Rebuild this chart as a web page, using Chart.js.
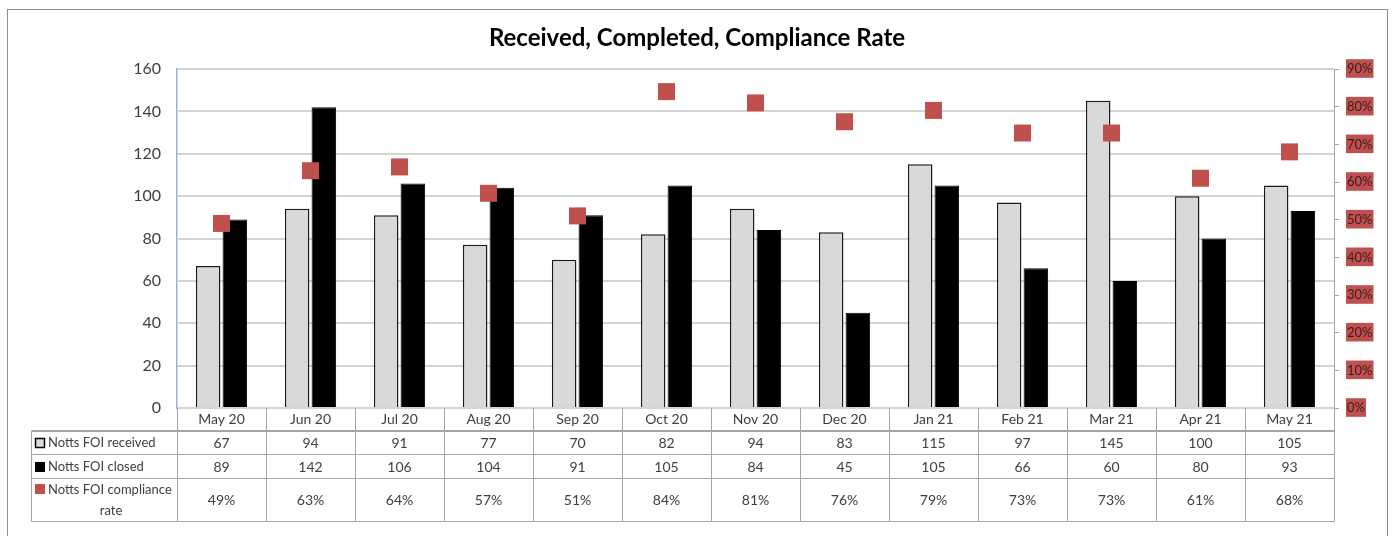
<!DOCTYPE html>
<html>
<head>
<meta charset="utf-8">
<script src="https://cdn.jsdelivr.net/npm/chart.js@4"></script>
<style>
  html, body { margin: 0; padding: 0; background: #fff; }
  #wrap { position: relative; width: 1394px; height: 536px; }
</style>
</head>
<body>
<div id="wrap"><canvas id="c" width="1394" height="536"></canvas></div>
<script>
const categories = ['May 20','Jun 20','Jul 20','Aug 20','Sep 20','Oct 20','Nov 20','Dec 20','Jan 21','Feb 21','Mar 21','Apr 21','May 21'];
const received = [67, 94, 91, 77, 70, 82, 94, 83, 115, 97, 145, 100, 105];
const closed = [89, 142, 106, 104, 91, 105, 84, 45, 105, 66, 60, 80, 93];
const compliance = [49, 63, 64, 57, 51, 84, 81, 76, 79, 73, 73, 61, 68];
const seriesNames = ['Notts FOI received', 'Notts FOI closed', 'Notts FOI compliance rate'];
const titleText = 'Received, Completed, Compliance Rate';

const FONT = 'Lato, "Open Sans", "DejaVu Sans", sans-serif';
const RED = '#c0504d';
const GRAY_BAR = '#d9d9d9';
const TABLE_LINE = '#a6a6a6';
const TEXT = '#404040';

const frame = {
  id: 'frame',
  beforeDraw(chart) {
    const ctx = chart.ctx;
    ctx.save();
    ctx.fillStyle = '#fff';
    ctx.fillRect(0, 0, chart.width, chart.height);
    ctx.strokeStyle = '#8c8c8c';
    ctx.lineWidth = 1;
    ctx.strokeRect(7.5, 9.5, 1380, 560);
    ctx.restore();
  }
};

const dataTable = {
  id: 'dataTable',
  afterDraw(chart) {
    const ctx = chart.ctx;
    const a = chart.chartArea;
    const xs = chart.scales.x;
    const n = categories.length;
    const colW = (a.right - a.left) / n;
    const bounds = [];
    for (let i = 0; i <= n; i++) bounds.push(Math.round(a.left + i * colW) + 0.5);
    const legLeft = 31.5;
    const yMonthTop = a.bottom;
    const yHead = 431;
    const rows = [yHead, 454.5, 478.5, 521.5];
    ctx.save();
    ctx.strokeStyle = TABLE_LINE;
    ctx.lineWidth = 1;
    ctx.beginPath();
    bounds.forEach(b => { ctx.moveTo(b, yMonthTop); ctx.lineTo(b, rows[3]); });
    ctx.moveTo(legLeft, yHead); ctx.lineTo(legLeft, rows[3]);
    for (let r = 1; r < rows.length; r++) {
      ctx.moveTo(legLeft, rows[r]); ctx.lineTo(bounds[n], rows[r]);
    }
    ctx.stroke();
    ctx.lineWidth = 2;
    ctx.beginPath();
    ctx.moveTo(legLeft, yHead); ctx.lineTo(bounds[n], yHead);
    ctx.stroke();

    // values
    ctx.fillStyle = TEXT;
    ctx.font = '14px ' + FONT;
    ctx.textAlign = 'center';
    ctx.textBaseline = 'middle';
    const rowVals = [received.map(String), closed.map(String), compliance.map(v => v + '%')];
    const centers = [443, 467, 500];
    rowVals.forEach((vals, r) => {
      vals.forEach((v, i) => {
        ctx.fillText(v, xs.getPixelForValue(i), centers[r]);
      });
    });

    // legend column
    ctx.font = '13px ' + FONT;
    ctx.textAlign = 'left';
    ctx.fillStyle = GRAY_BAR;
    ctx.fillRect(35, 438, 10, 10);
    ctx.strokeStyle = '#000';
    ctx.lineWidth = 1.5;
    ctx.strokeRect(35.5, 438.5, 9, 9);
    ctx.fillStyle = TEXT;
    ctx.fillText(seriesNames[0], 48, centers[0]);
    ctx.fillStyle = '#000';
    ctx.fillRect(35, 462, 10, 10);
    ctx.fillStyle = TEXT;
    ctx.fillText(seriesNames[1], 48, centers[1]);
    ctx.fillStyle = RED;
    ctx.fillRect(35, 484, 10, 10);
    ctx.fillStyle = TEXT;
    const words = seriesNames[2].split(' ');
    ctx.fillText(words.slice(0, 3).join(' '), 48, 490);
    ctx.textAlign = 'center';
    ctx.fillText(words.slice(3).join(' '), 111, 511);
    ctx.restore();
  }
};

new Chart(document.getElementById('c'), {
  data: {
    labels: categories,
    datasets: [
      {
        type: 'line',
        label: seriesNames[2],
        data: compliance,
        yAxisID: 'y1',
        showLine: false,
        pointStyle: 'rect',
        pointRadius: 12,
        pointHoverRadius: 12,
        pointBorderWidth: 0,
        backgroundColor: RED,
        borderColor: RED,
        order: 0
      },
      {
        type: 'bar',
        label: seriesNames[0],
        data: received,
        yAxisID: 'y',
        backgroundColor: GRAY_BAR,
        borderColor: '#1a1a1a',
        borderWidth: 1.5,
        categoryPercentage: 0.6,
        barPercentage: 0.92,
        order: 1
      },
      {
        type: 'bar',
        label: seriesNames[1],
        data: closed,
        yAxisID: 'y',
        backgroundColor: '#000',
        borderColor: '#000',
        borderWidth: 1,
        categoryPercentage: 0.6,
        barPercentage: 0.92,
        order: 2
      }
    ]
  },
  options: {
    responsive: false,
    animation: false,
    events: [],
    layout: { padding: { top: 0, bottom: 106, left: 0, right: 0 } },
    plugins: {
      legend: { display: false },
      tooltip: { enabled: false },
      title: {
        display: true,
        text: titleText,
        color: '#000',
        font: { family: FONT, size: 24, weight: 'bold', lineHeight: 1.2 },
        padding: { top: 24, bottom: 16.2 }
      }
    },
    scales: {
      x: {
        grid: { display: false, drawTicks: false },
        border: { display: false },
        ticks: { color: TEXT, font: { family: FONT, size: 14 }, padding: 3, maxRotation: 0, autoSkip: false },
        afterFit(s) { s.height = 22; }
      },
      y: {
        position: 'left',
        min: 0, max: 160,
        grid: { color: '#d4d4d4', lineWidth: 2, drawTicks: false },
        border: { display: true, color: '#95b3d7', width: 1.5 },
        ticks: { stepSize: 20, color: TEXT, font: { family: FONT, size: 16 }, padding: 16 },
        afterFit(s) { s.width = 177; }
      },
      y1: {
        position: 'right',
        min: 0, max: 90,
        grid: { drawOnChartArea: false, drawTicks: true, tickLength: 5, color: '#a6a6a6', lineWidth: 1 },
        border: { display: true, color: '#a6a6a6', width: 1 },
        ticks: {
          stepSize: 10,
          callback: v => v + '%',
          color: '#3a2020',
          font: { family: FONT, size: 13 },
          padding: 8,
          showLabelBackdrop: true,
          backdropColor: RED,
          backdropPadding: { top: 2, bottom: 1, left: 1, right: 1 }
        },
        afterFit(s) { s.width = 60; }
      }
    }
  },
  plugins: [frame, dataTable]
});
</script>
</body>
</html>
